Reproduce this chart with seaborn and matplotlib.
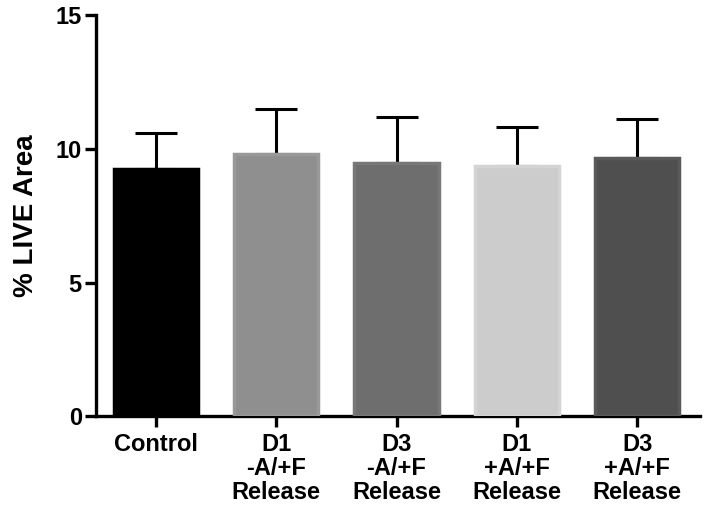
import matplotlib
matplotlib.use("Agg")
import matplotlib.pyplot as plt
import seaborn as sns
import pandas as pd

groups = ["Control", "D1\n-A/+F\nRelease", "D3\n-A/+F\nRelease",
          "D1\n+A/+F\nRelease", "D3\n+A/+F\nRelease"]
means = [9.24, 9.80, 9.47, 9.35, 9.65]
errs = [1.35, 1.70, 1.72, 1.46, 1.46]
colors = ["#000000", "#8f8f8f", "#6e6e6e", "#cccccc", "#4f4f4f"]
edges = ["#000000", "#999999", "#787878", "#d4d4d4", "#5a5a5a"]

sns.set_style("ticks", {"axes.edgecolor": "black", "text.color": "black",
                        "axes.labelcolor": "black", "xtick.color": "black",
                        "ytick.color": "black"})
plt.rcParams["font.family"] = ["Liberation Sans", "DejaVu Sans"]
plt.rcParams["font.weight"] = "bold"

df = pd.DataFrame({"group": groups, "value": means})

fig = plt.figure(figsize=(7.04, 5.07), dpi=100)
ax = fig.add_axes([0.136, 0.179, 0.858, 0.791])

sns.barplot(data=df, x="group", y="value", hue="group", palette=colors,
            width=0.7, legend=False, ax=ax, zorder=3, linewidth=2.5)
for patch, ec in zip(ax.patches, edges):
    patch.set_edgecolor(ec)

# upper error only, like the original
ax.errorbar(range(len(groups)), means, yerr=[[0] * len(errs), errs],
            fmt="none", ecolor="black", elinewidth=2.2, capsize=15,
            capthick=2.2, zorder=2)

ax.set_ylim(0, 15)
ax.set_xlim(-0.5, 4.52)
ax.set_yticks([0, 5, 10, 15])
ax.set_xlabel("")
ax.set_ylabel("% LIVE Area", fontsize=20, fontweight="bold", labelpad=12)
ax.tick_params(axis="both", width=2.4, length=8, labelsize=17, colors="black")
ax.tick_params(axis="x", pad=4)
ax.tick_params(axis="y", pad=2)
for lab in ax.get_xticklabels():
    lab.set_fontweight("bold")
    lab.set_linespacing(1.05)
for lab in ax.get_yticklabels():
    lab.set_fontweight("bold")
for s in ["left", "bottom"]:
    ax.spines[s].set_linewidth(2.4)
    ax.spines[s].set_color("black")
sns.despine(ax=ax)

fig.savefig("out.png", dpi=100)
